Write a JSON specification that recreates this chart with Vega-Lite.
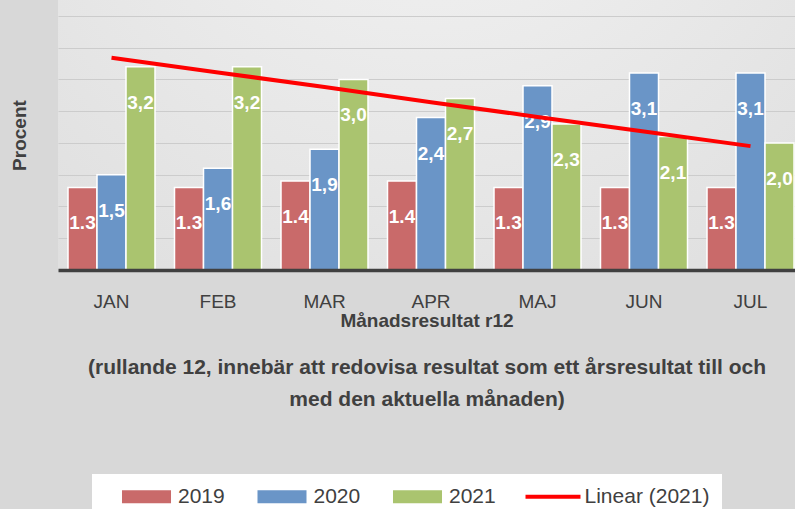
{
  "$schema": "https://vega.github.io/schema/vega-lite/v6.json",
  "width": 737,
  "height": 270,
  "autosize": {"type": "none"},
  "padding": {"left": 58, "top": 0, "right": 0, "bottom": 239},
  "background": "#d8d8d8",
  "config": {
    "font": "Liberation Sans",
    "view": {
      "stroke": null,
      "fill": {"gradient": "radial", "x1": 0.5, "y1": 0.05, "r1": 0, "x2": 0.5, "y2": 0.05, "r2": 0.8,
        "stops": [{"offset": 0, "color": "#f4f4f4"}, {"offset": 1, "color": "#dfdfdf"}]}
    }
  },
  "resolve": {"axis": {"x": "independent"}},
  "datasets": {
    "bars": [
      {"month": "JAN", "year": "2019", "value": 1.3, "label": "1.3"},
      {"month": "JAN", "year": "2020", "value": 1.5, "label": "1,5"},
      {"month": "JAN", "year": "2021", "value": 3.2, "label": "3,2"},
      {"month": "FEB", "year": "2019", "value": 1.3, "label": "1.3"},
      {"month": "FEB", "year": "2020", "value": 1.6, "label": "1,6"},
      {"month": "FEB", "year": "2021", "value": 3.2, "label": "3,2"},
      {"month": "MAR", "year": "2019", "value": 1.4, "label": "1.4"},
      {"month": "MAR", "year": "2020", "value": 1.9, "label": "1,9"},
      {"month": "MAR", "year": "2021", "value": 3.0, "label": "3,0"},
      {"month": "APR", "year": "2019", "value": 1.4, "label": "1.4"},
      {"month": "APR", "year": "2020", "value": 2.4, "label": "2,4"},
      {"month": "APR", "year": "2021", "value": 2.7, "label": "2,7"},
      {"month": "MAJ", "year": "2019", "value": 1.3, "label": "1.3"},
      {"month": "MAJ", "year": "2020", "value": 2.9, "label": "2,9"},
      {"month": "MAJ", "year": "2021", "value": 2.3, "label": "2,3"},
      {"month": "JUN", "year": "2019", "value": 1.3, "label": "1.3"},
      {"month": "JUN", "year": "2020", "value": 3.1, "label": "3,1"},
      {"month": "JUN", "year": "2021", "value": 2.1, "label": "2,1"},
      {"month": "JUL", "year": "2019", "value": 1.3, "label": "1.3"},
      {"month": "JUL", "year": "2020", "value": 3.1, "label": "3,1"},
      {"month": "JUL", "year": "2021", "value": 2.0, "label": "2,0"}
    ],
    "trend": [
      {"month": "JAN", "value": 3.34},
      {"month": "FEB", "value": 3.11},
      {"month": "MAR", "value": 2.88},
      {"month": "APR", "value": 2.64},
      {"month": "MAJ", "value": 2.41},
      {"month": "JUN", "value": 2.18},
      {"month": "JUL", "value": 1.95}
    ]
  },
  "encoding": {
    "y": {
      "field": "value",
      "type": "quantitative",
      "scale": {"domain": [0, 4.25], "nice": false, "zero": true},
      "axis": {
        "title": "Procent",
        "titleFontSize": 19,
        "titleFontWeight": "bold",
        "titleColor": "#404040",
        "titlePadding": 29,
        "labels": false,
        "ticks": false,
        "domain": false,
        "grid": true,
        "gridColor": "#cccccc",
        "gridWidth": 1,
        "values": [0.5, 1, 1.5, 2, 2.5, 3, 3.5, 4]
      }
    }
  },
  "layer": [
    {
      "data": {"name": "bars"},
      "mark": {"type": "bar", "stroke": "white", "strokeWidth": 1.5},
      "encoding": {
        "x": {
          "field": "month",
          "type": "nominal",
          "sort": ["JAN", "FEB", "MAR", "APR", "MAJ", "JUN", "JUL"],
          "scale": {"paddingInner": 0.183, "paddingOuter": 0.0516, "align": 0.91},
          "axis": {
            "title": "Månadsresultat r12",
            "titleFontSize": 19,
            "titleFontWeight": "bold",
            "titleColor": "#404040",
            "titlePadding": 0,
            "labelFontSize": 19,
            "labelColor": "#404040",
            "labelPadding": 22,
            "labelAngle": 0,
            "ticks": false,
            "grid": false,
            "domainColor": "#404040",
            "domainWidth": 3.5,
            "zindex": 1
          }
        },
        "xOffset": {"field": "year", "type": "nominal", "scale": {"paddingInner": 0, "paddingOuter": 0}},
        "color": {
          "field": "year",
          "type": "nominal",
          "scale": {
            "domain": ["2019", "2020", "2021", "Linear (2021)"],
            "range": ["#c96a6a", "#6a95c7", "#aac46f", "#ff0000"]
          }
        }
      }
    },
    {
      "data": {"name": "bars"},
      "mark": {"type": "point", "filled": true, "opacity": 0},
      "encoding": {
        "x": {"field": "month", "type": "nominal", "sort": ["JAN", "FEB", "MAR", "APR", "MAJ", "JUN", "JUL"], "axis": null},
        "xOffset": {"field": "year", "type": "nominal", "scale": {"paddingInner": 0, "paddingOuter": 0}},
        "color": {
          "field": "year",
          "type": "nominal",
          "scale": {
            "domain": ["2019", "2020", "2021", "Linear (2021)"],
            "range": ["#c96a6a", "#6a95c7", "#aac46f", "#ff0000"]
          },
          "legend": {
            "title": null,
            "orient": "none",
            "legendX": 34,
            "legendY": 474,
            "direction": "horizontal",
            "columns": 4,
            "columnPadding": 14.5,
            "fillColor": "white",
            "padding": 12,
            "symbolOffset": 32,
            "symbolSize": 169,
            "symbolStrokeWidth": 0,
            "symbolOpacity": 1,
            "labelFontSize": 21,
            "labelColor": "#404040",
            "labelOffset": 21
          }
        },
        "shape": {
          "field": "year",
          "type": "nominal",
          "scale": {
            "domain": ["2019", "2020", "2021", "Linear (2021)"],
            "range": ["M-3.77,-1H3.77V1H-3.77Z", "M-3.77,-1H3.77V1H-3.77Z", "M-3.77,-1H3.77V1H-3.77Z", "M-4.23,-0.31H4.23V0.31H-4.23Z"]
          },
          "legend": {
            "title": null,
            "orient": "none",
            "legendX": 34,
            "legendY": 474,
            "direction": "horizontal",
            "columns": 4,
            "columnPadding": 14.5,
            "fillColor": "white",
            "padding": 12,
            "symbolOffset": 32,
            "symbolSize": 169,
            "symbolStrokeWidth": 0,
            "symbolOpacity": 1,
            "labelFontSize": 21,
            "labelColor": "#404040",
            "labelOffset": 21
          }
        }
      }
    },
    {
      "data": {"name": "bars"},
      "mark": {"type": "text", "color": "white", "fontSize": 19, "fontWeight": "bold", "baseline": "middle", "dy": 36},
      "encoding": {
        "x": {"field": "month", "type": "nominal", "sort": ["JAN", "FEB", "MAR", "APR", "MAJ", "JUN", "JUL"], "axis": null},
        "xOffset": {"field": "year", "type": "nominal", "scale": {"paddingInner": 0, "paddingOuter": 0}},
        "text": {"field": "label"}
      }
    },
    {
      "data": {"name": "trend"},
      "mark": {"type": "line", "color": "#ff0000", "strokeWidth": 4},
      "encoding": {
        "x": {
          "field": "month",
          "type": "nominal",
          "sort": ["JAN", "FEB", "MAR", "APR", "MAJ", "JUN", "JUL"],
          "axis": {
            "orient": "bottom",
            "offset": 86,
            "title": ["(rullande 12, innebär att redovisa resultat som ett årsresultat till och", "med den aktuella månaden)"],
            "titleFontSize": 21,
            "titleFontWeight": "bold",
            "titleColor": "#404040",
            "titleLineHeight": 32,
            "titlePadding": 0,
            "labels": false,
            "ticks": false,
            "domain": false,
            "grid": false
          }
        }
      }
    }
  ]
}
